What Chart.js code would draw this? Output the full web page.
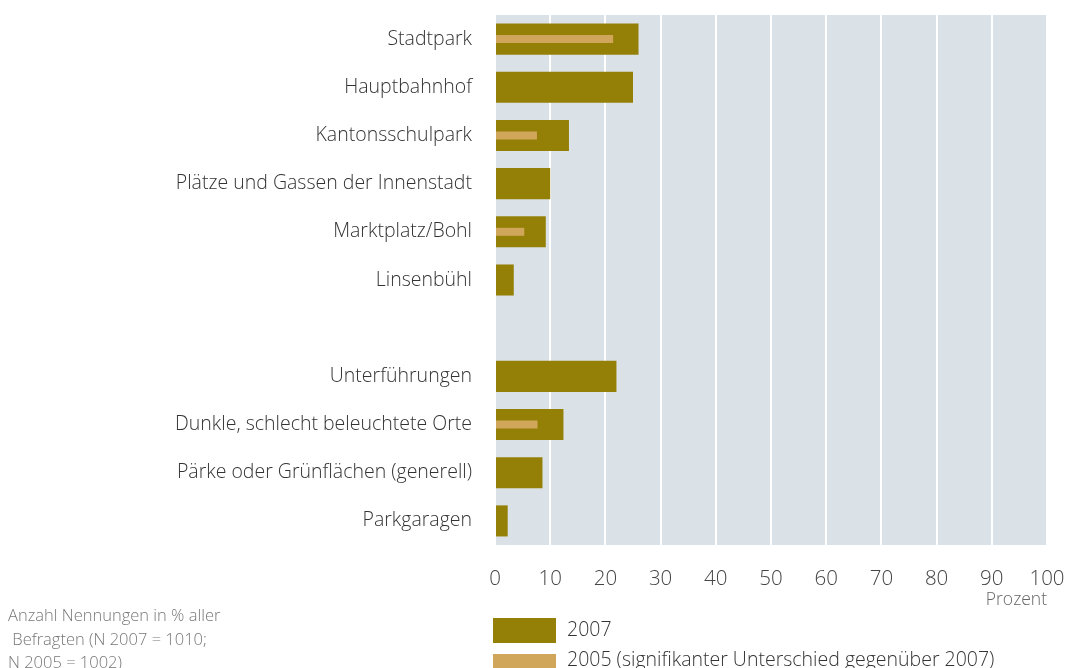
<!DOCTYPE html>
<html>
<head>
<meta charset="utf-8">
<script src="https://cdn.jsdelivr.net/npm/chart.js@4"></script>
<style>
  body { margin: 0; width: 1065px; height: 668px; overflow: hidden; background: #fff; position: relative; font-family: "Open Sans", sans-serif; }
  #chart { position: absolute; left: 0; top: 0; }
  .sw { position: absolute; left: 493px; width: 63px; height: 25px; }
  .lt { position: absolute; left: 567px; font-size: 19.5px; font-weight: 300; color: #333; line-height: 24px; white-space: nowrap; }
  #note { position: absolute; left: 8px; top: 603px; font-size: 16.5px; font-weight: 300; color: #777; line-height: 23.5px; white-space: nowrap; }
</style>
</head>
<body>
<canvas id="chart" width="1065" height="668"></canvas>
<div class="sw" style="top:618px;background:#958007"></div>
<div class="lt" style="top:617px">2007</div>
<div class="sw" style="top:654px;background:#d0a65a"></div>
<div class="lt" style="top:647px">2005 (signifikanter Unterschied gegenüber 2007)</div>
<div id="note">Anzahl Nennungen in % aller<br>&nbsp;Befragten (N 2007 = 1010;<br>N 2005 = 1002)</div>
<script>
// --- DATA ---
const categories = [
    'Stadtpark',
    'Hauptbahnhof',
    'Kantonsschulpark',
    'Plätze und Gassen der Innenstadt',
    'Marktplatz/Bohl',
    'Linsenbühl',
    '', // Lücke zwischen den Gruppen
    'Unterführungen',
    'Dunkle, schlecht beleuchtete Orte',
    'Pärke oder Grünflächen (generell)',
    'Parkgaragen'
];
const values2007 = [26, 25, 13.4, 10, 9.2, 3.4, null, 22, 12.4, 8.6, 2.3];
const values2005 = [21.4, null, 7.6, null, 5.3, null, null, null, 7.7, null, null];
const xTicks = [0, 10, 20, 30, 40, 50, 60, 70, 80, 90, 100];

// Hintergrund der Plotfläche
const plotBackground = {
    id: 'plotBackground',
    beforeDraw(chart) {
        const { ctx, chartArea } = chart;
        ctx.save();
        ctx.fillStyle = '#dae1e7';
        ctx.fillRect(chartArea.left, chartArea.top, chartArea.right - chartArea.left, chartArea.bottom - chartArea.top);
        ctx.restore();
    }
};

new Chart(document.getElementById('chart').getContext('2d'), {
    type: 'bar',
    data: {
        labels: categories,
        datasets: [
            {
                label: '2005 (signifikanter Unterschied gegenüber 2007)',
                data: values2005,
                backgroundColor: '#d0a65a',
                grouped: false,
                barPercentage: 0.166,
                categoryPercentage: 1
            },
            {
                label: '2007',
                data: values2007,
                backgroundColor: '#958007',
                grouped: false,
                barPercentage: 0.645,
                categoryPercentage: 1
            }
        ]
    },
    options: {
        indexAxis: 'y',
        responsive: false,
        animation: false,
        layout: { padding: { top: 15, right: 18, left: 0, bottom: 57 } },
        scales: {
            x: {
                min: 0,
                max: 100,
                afterBuildTicks: (scale) => { scale.ticks = xTicks.map(v => ({ value: v })); },
                afterFit: (scale) => {
                    scale.height = 66;
                    scale.paddingLeft = 0;
                    scale.paddingRight = 0;
                },
                grid: { color: '#ffffff', lineWidth: 2, drawTicks: false, tickLength: 0 },
                border: { display: false },
                ticks: {
                    padding: 22,
                    color: '#444',
                    font: { family: 'Open Sans', size: 20.5, weight: 300 }
                },
                title: {
                    display: true,
                    text: 'Prozent',
                    align: 'end',
                    color: '#666',
                    padding: { top: 0, bottom: 0 },
                    font: { family: 'Open Sans', size: 17.5, weight: 300 }
                }
            },
            y: {
                afterFit: (scale) => {
                    scale.width = 495;
                    scale.paddingTop = 0;
                    scale.paddingBottom = 0;
                },
                grid: { display: false, drawTicks: false },
                border: { display: false },
                ticks: {
                    padding: 23,
                    color: '#333',
                    autoSkip: false,
                    font: { family: 'Open Sans', size: 19.5, weight: 300 }
                }
            }
        },
        plugins: {
            legend: { display: false },
            tooltip: { enabled: false }
        }
    },
    plugins: [plotBackground]
});
</script>
</body>
</html>
